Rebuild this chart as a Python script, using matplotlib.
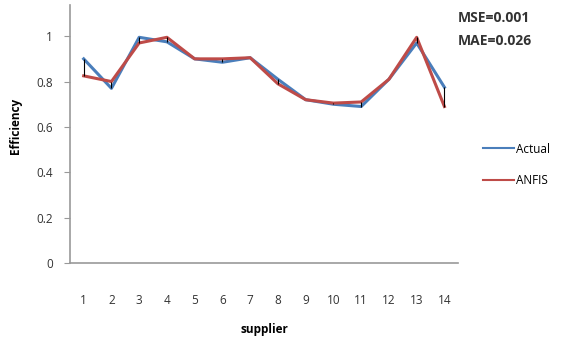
import numpy as np
import matplotlib.pyplot as plt

plt.rcParams['font.family'] = ['Open Sans', 'DejaVu Sans']

suppliers = [str(i) for i in range(1, 15)]
actual = [0.90, 0.77, 0.995, 0.975, 0.90, 0.885, 0.905, 0.81, 0.72, 0.70, 0.69, 0.81, 0.97, 0.775]
anfis = [0.825, 0.80, 0.97, 0.995, 0.90, 0.90, 0.905, 0.79, 0.72, 0.705, 0.71, 0.81, 0.995, 0.69]
yticks = [0, 0.2, 0.4, 0.6, 0.8, 1]

fig = plt.figure(figsize=(5.63, 3.39), dpi=100)
ax = fig.add_axes([0.124, 0.224, 0.69, 0.761])

x = np.arange(len(suppliers))
ax.plot(x, actual, color='#4a7ebb', lw=2.2, label='Actual')
ax.plot(x, anfis, color='#be4b48', lw=2.2, label='ANFIS')
# high-low lines
ax.vlines(x, np.minimum(actual, anfis), np.maximum(actual, anfis), color='black', lw=0.8)

ax.set_xlim(-0.5, len(suppliers) - 0.5)
ax.set_ylim(0, 1.137)
ax.set_xticks(x)
ax.set_xticklabels(suppliers)
ax.set_yticks(yticks)
ax.set_yticklabels(['0', '0.2', '0.4', '0.6', '0.8', '1'])
ax.tick_params(axis='x', length=0, pad=22, labelsize=8.5, colors='#333333')
ax.tick_params(axis='y', length=4, direction='out', color='#999999', labelsize=8.5,
               labelcolor='#333333', pad=8)

for s in ['top', 'right']:
    ax.spines[s].set_visible(False)
for s in ['left', 'bottom']:
    ax.spines[s].set_color('#999999')
    ax.spines[s].set_linewidth(1.2)

ax.set_xlabel('supplier', fontweight='bold', fontsize=8.5, labelpad=12)
fig.text(0.027, 0.628, 'Efficiency', rotation=90, fontweight='bold', fontsize=8.5,
         ha='center', va='center', color='black')

fig.text(0.813, 0.935, 'MSE=0.001', fontweight='bold', fontsize=10, color='#333333')
fig.text(0.813, 0.868, 'MAE=0.026', fontweight='bold', fontsize=10, color='#333333')

ax.legend(loc='center left', bbox_to_anchor=(1.035, 0.38), frameon=False, fontsize=8.5,
          handlelength=2.7, handletextpad=0.1, labelspacing=1.6)
leg = ax.get_legend()
for line in leg.get_lines():
    line.set_linewidth(1.5)

fig.savefig('out.png', dpi=100)
